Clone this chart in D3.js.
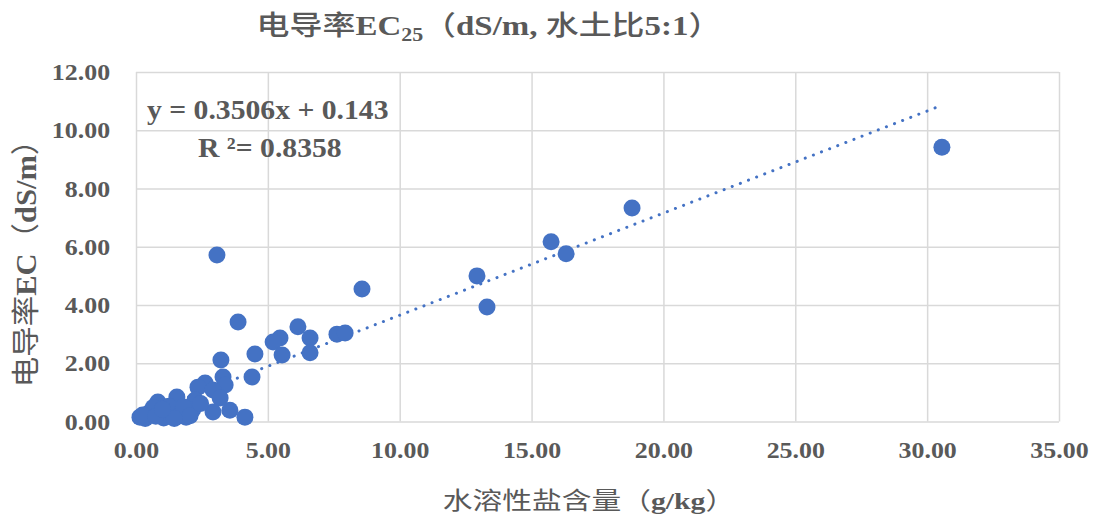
<!DOCTYPE html>
<html>
<head>
<meta charset="utf-8">
<script src="https://cdn.jsdelivr.net/npm/d3@7"></script>
<style>
  body { margin: 0; background: #fff; }
  svg { display: block; }
</style>
</head>
<body>
<svg id="chart" width="1094" height="517"></svg>
<script>
// salt content (g/kg) vs EC (dS/m)
const saltValues = [
  30.56, 18.81, 15.74, 16.31, 12.93, 13.31, 8.57, 3.07, 3.87, 6.14,
  5.46, 5.20, 5.54, 6.60, 6.60, 7.62, 7.93, 4.51, 4.40, 3.22,
  3.30, 3.38, 2.62, 2.35, 2.92, 3.19, 2.92, 3.56, 4.13, 1.55,
  0.83, 2.24, 0.15, 0.50, 0.95, 1.35, 1.90, 2.15, 0.35, 0.65,
  1.05, 1.25, 1.65, 0.25, 0.75, 1.80, 2.05, 2.45, 1.45, 1.00
];
const ecValues = [
  9.42, 7.33, 6.17, 5.76, 5.00, 3.93, 4.55, 5.72, 3.42, 3.25,
  2.87, 2.73, 2.28, 2.87, 2.36, 3.00, 3.04, 2.32, 1.53, 2.11,
  1.53, 1.25, 1.32, 1.18, 1.08, 0.81, 0.33, 0.39, 0.15, 0.84,
  0.67, 0.74, 0.15, 0.30, 0.25, 0.32, 0.15, 0.40, 0.10, 0.48,
  0.12, 0.52, 0.20, 0.22, 0.18, 0.50, 0.20, 0.62, 0.10, 0.42
];
const xTicks = [0, 5, 10, 15, 20, 25, 30, 35];
const yTicks = [0, 2, 4, 6, 8, 10, 12];
const slope = 0.3506, intercept = 0.143, r2 = 0.8358;

const points = saltValues.map((x, i) => ({ x: x, y: ecValues[i] }));

const svg = d3.select("#chart");
const textColor = "#595959";
const blue = "#4472C4";
const serif = "'Liberation Serif', 'Times New Roman', serif";
const cjk = "'Noto Sans CJK SC', 'Noto Sans', sans-serif";

const xScale = d3.scaleLinear().domain([0, 35]).range([136, 1059]);
const yScale = d3.scaleLinear().domain([0, 12]).range([421.5, 72]);

// gridlines + tick labels
const xAxis = svg.append("g")
  .attr("transform", `translate(0,${yScale(0)})`)
  .call(d3.axisBottom(xScale).tickValues(xTicks).tickFormat(d3.format(".2f"))
    .tickSize(-(yScale(0) - yScale(12))).tickPadding(19));
const yAxis = svg.append("g")
  .attr("transform", `translate(${xScale(0)},0)`)
  .call(d3.axisLeft(yScale).tickValues(yTicks).tickFormat(d3.format(".2f"))
    .tickSize(-(xScale(35) - xScale(0))).tickPadding(24));

[xAxis, yAxis].forEach((g) => {
  g.select(".domain").remove();
  g.selectAll("line").attr("stroke", "#d9d9d9").attr("stroke-width", 1.5);
  g.selectAll("text")
    .attr("fill", textColor)
    .attr("transform", "scale(1.08,1)")
    .style("font-family", serif)
    .style("font-weight", "bold")
    .style("font-size", "24px");
});

// trendline
const xExt = d3.extent(saltValues);
svg.append("line")
  .attr("x1", xScale(xExt[0]))
  .attr("y1", yScale(slope * xExt[0] + intercept))
  .attr("x2", xScale(xExt[1]))
  .attr("y2", yScale(slope * xExt[1] + intercept))
  .attr("stroke", blue)
  .attr("stroke-width", 3)
  .attr("stroke-linecap", "round")
  .attr("stroke-dasharray", "0.1 8.6");

// points
svg.append("g")
  .selectAll("circle")
  .data(points)
  .enter()
  .append("circle")
  .attr("cx", (d) => xScale(d.x))
  .attr("cy", (d) => yScale(d.y))
  .attr("r", 8.5)
  .attr("fill", blue);

// equation
const eq = svg.append("g")
  .attr("fill", textColor)
  .style("font-family", serif)
  .style("font-weight", "bold")
  .style("font-size", "28px");
eq.append("text").attr("transform", "translate(147,119) scale(1.06,1)")
  .text(`y = ${slope}x + ${intercept}`);
eq.append("text").attr("transform", "translate(198,157) scale(1.06,1)")
  .text(`R ²= ${r2}`);

// title
const title = svg.append("text")
  .attr("transform", "translate(489,35) scale(1.22,1)")
  .attr("text-anchor", "middle")
  .attr("fill", textColor)
  .style("font-size", "27px");
title.append("tspan").style("font-family", cjk).style("font-weight", 500).text("电导率");
title.append("tspan").style("font-family", serif).style("font-weight", "bold").text("EC");
title.append("tspan").style("font-family", serif).style("font-weight", "bold")
  .style("font-size", "18px").attr("dy", 6).text("25");
title.append("tspan").style("font-family", cjk).style("font-weight", 500).attr("dy", -6).text("（");
title.append("tspan").style("font-family", serif).style("font-weight", "bold").text("dS/m, ");
title.append("tspan").style("font-family", cjk).style("font-weight", 500).text("水土比");
title.append("tspan").style("font-family", serif).style("font-weight", "bold").text("5:1");
title.append("tspan").style("font-family", cjk).style("font-weight", 500).text("）");

// x axis title
const xTitle = svg.append("text")
  .attr("transform", "translate(589,509) scale(1.24,1)")
  .attr("text-anchor", "middle")
  .attr("fill", textColor)
  .style("font-size", "24px");
xTitle.append("tspan").style("font-family", cjk).text("水溶性盐含量（");
xTitle.append("tspan").style("font-family", serif).style("font-weight", "bold").text("g/kg");
xTitle.append("tspan").style("font-family", cjk).text("）");

// y axis title
const yTitle = svg.append("text")
  .attr("transform", "translate(36,256) rotate(-90) scale(1.22,1.15)")
  .attr("text-anchor", "middle")
  .attr("fill", textColor)
  .style("font-size", "25px");
yTitle.append("tspan").style("font-family", cjk).text("电导率");
yTitle.append("tspan").style("font-family", serif).style("font-weight", "bold").text("EC");
yTitle.append("tspan").style("font-family", cjk).text("（");
yTitle.append("tspan").style("font-family", serif).style("font-weight", "bold").text("dS/m");
yTitle.append("tspan").style("font-family", cjk).text("）");
</script>
</body>
</html>
